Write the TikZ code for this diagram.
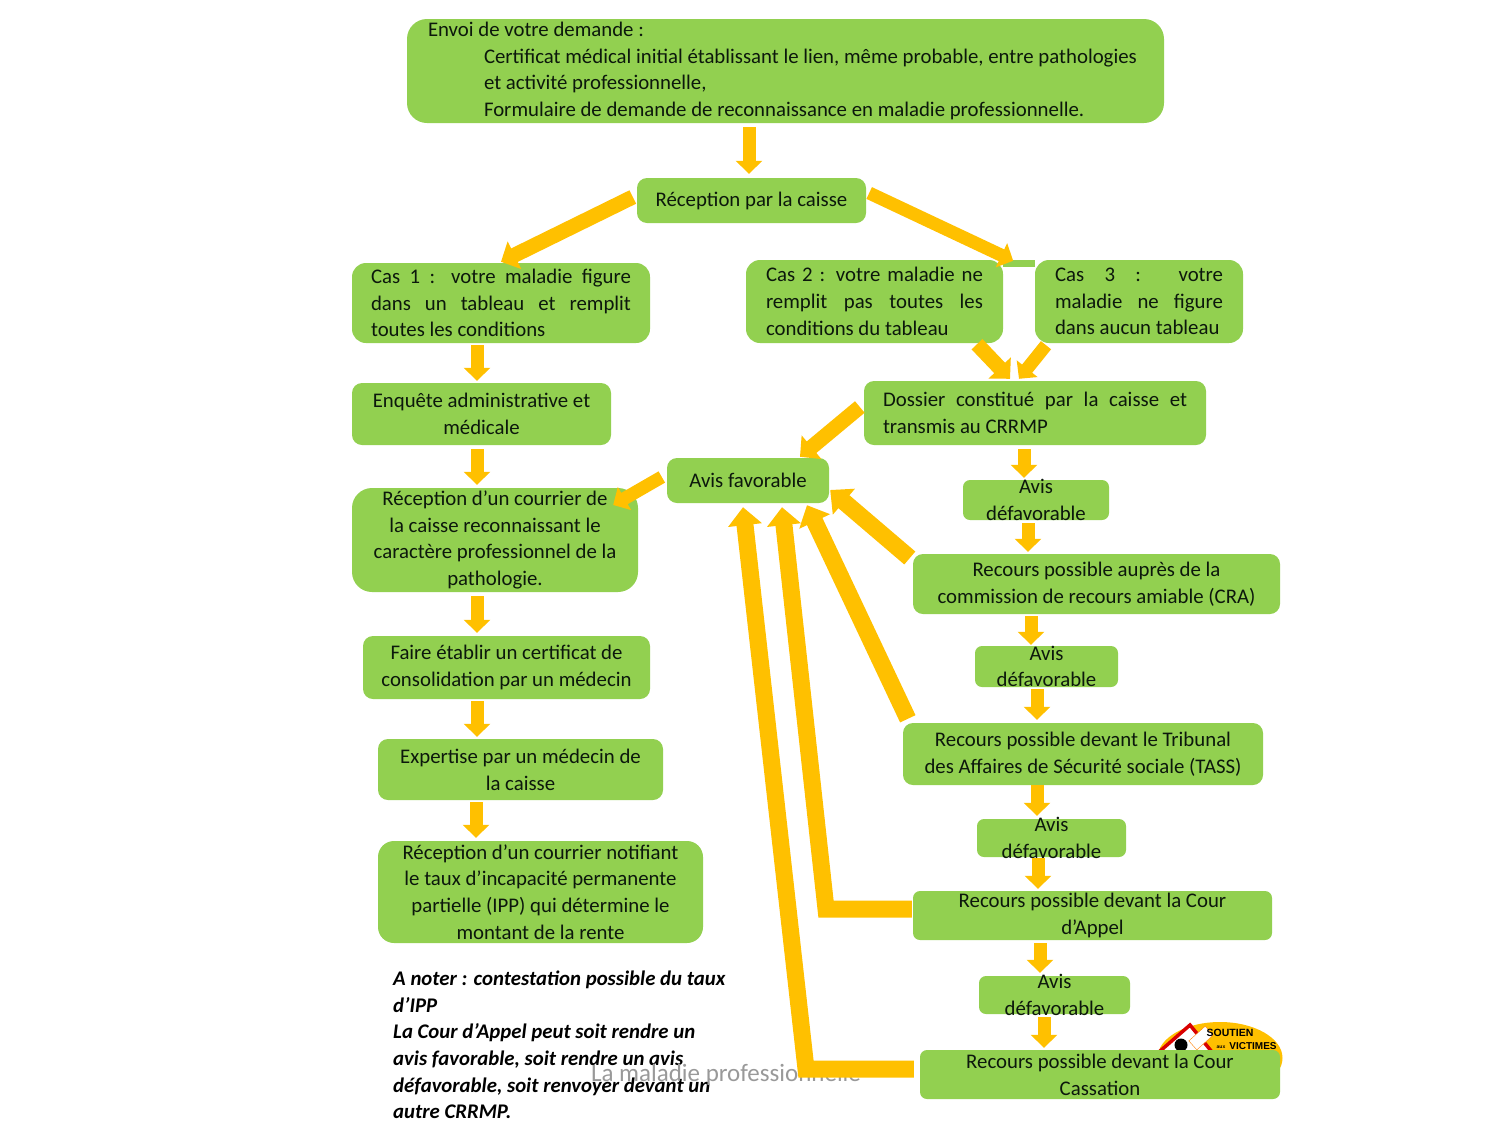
\documentclass[tikz,border=0pt]{standalone}
\usepackage{fontspec}
\setmainfont{Carlito}
\newfontfamily\logofont{Liberation Sans}
\usetikzlibrary{arrows.meta,shapes.geometric}
\tolerance=9999 \hyphenpenalty=10000
\definecolor{vert}{RGB}{146,208,80}
\definecolor{jaune}{RGB}{255,192,0}
\definecolor{encre}{RGB}{12,24,12}
\tikzset{
  texte/.style={font=\fontsize{20.8}{26.7}\selectfont,text=encre},
  boite/.style={fill=vert,rounded corners=#1,inner sep=0pt,texte,align=center},
  boite/.default=10pt,
  taille/.style 2 args={minimum width=#1pt,minimum height=#2pt},
  avis/.style={boite=7pt,label={[texte,align=center]center:Avis\\défavorable}},
  fleche/.style={draw=jaune,line width=13pt,-{Triangle[width=26pt,length=13pt]}},
  moyenne/.style={draw=jaune,line width=15pt,-{Triangle[width=30pt,length=15pt]}},
  grande/.style={draw=jaune,line width=17pt,-{Triangle[width=33pt,length=18pt]}}
}
\begin{document}
\begin{tikzpicture}[x=1pt,y=-1pt]
\useasboundingbox (0,0) rectangle (1500,1125);
\fill[white] (0,0) rectangle (1500,1125);
% logo
\node[ellipse,fill=jaune,minimum width=125pt,minimum height=72pt,inner sep=0pt] (ovale) at (1220,1058) {};
\coordinate (toitg) at (1159,1052); \coordinate (toith) at (1190,1025); \coordinate (toitd) at (1212,1052);
\fill[white] (toitg)--(toith)--(toitd)--cycle;
\draw[red!85!black,line width=3.5pt] (toitg)--(toith)--(toitd);
\fill[black] (1181,1045) circle (6.5pt);
\fill[white,draw=orange,rotate around={42:(1201,1038)}] (1190,1032) rectangle (1212,1044);
\node[font=\logofont\bfseries\fontsize{10.5}{10}\selectfont] (soutien) at (1230,1033) {SOUTIEN};
\node[font=\logofont\bfseries\fontsize{5}{5}\selectfont] (aux) at (1221,1047) {aux};
\node[font=\logofont\bfseries\fontsize{10}{10}\selectfont] (victimes) at (1253,1046) {VICTIMES};
% boites de gauche
\node[boite=20pt,taille={757}{104},text width=715pt,align=flush left] (envoi) at (785.5,71) {Envoi de votre demande :\\
  \hspace*{56pt}Certificat médical initial établissant le lien, même probable, entre pathologies\\
  \hspace*{56pt}et activité professionnelle,\\
  \hspace*{56pt}Formulaire de demande de reconnaissance en maladie professionnelle.};
\node[boite,taille={229}{45}] (recep) at (751.5,200.5) {Réception par la caisse};
\node[boite=14pt,taille={298}{80},text width=260pt,align=justify] (cas1) at (501,303) {Cas 1 : votre maladie figure\linebreak dans un tableau et remplit\linebreak toutes les conditions};
\node[boite=14pt,taille={257}{83},text width=217pt,align=justify] (cas2) at (874.5,301.5) {Cas 2 : votre maladie ne\linebreak remplit pas toutes les\linebreak conditions du tableau};
\node[boite=14pt,taille={208}{83},text width=168pt,align=justify] (cas3) at (1139,301.5) {Cas 3 : votre\linebreak maladie ne figure\linebreak dans aucun tableau};
\fill[vert] (cas2.north east) rectangle ([yshift=-7pt]cas3.north west);
\node[boite,taille={259}{62}] (enquete) at (481.5,414) {Enquête administrative et\\médicale};
\node[boite=20pt,taille={286}{104}] (courrier) at (495,540) {Réception d’un courrier de\\la caisse reconnaissant le\\caractère professionnel de la\\pathologie.};
\node[boite,taille={287}{63}] (certif) at (506.5,667.5) {Faire établir un certificat de\\consolidation par un médecin};
\node[boite,taille={285}{61}] (expert) at (520.5,769.5) {Expertise par un médecin de\\la caisse};
\node[boite=16pt,taille={325}{102}] (notif) at (540.5,892) {Réception d’un courrier notifiant\\le taux d’incapacité permanente\\partielle (IPP) qui détermine le\\montant de la rente};
\node[boite,taille={162}{45}] (favorable) at (748,480.5) {Avis favorable};
% boites de droite
\node[boite,taille={342}{64},text width=304pt,align=justify] (dossier) at (1035,413) {Dossier constitué par la caisse et transmis au CRRMP};
\node[avis,taille={146}{40}] (def1) at (1036,500) {};
\node[boite,taille={367}{60}] (cra) at (1096.5,584) {Recours possible auprès de la\\commission de recours amiable (CRA)};
\node[avis,taille={143}{41}] (def2) at (1046.5,666.5) {};
\node[boite,taille={360}{62}] (tass) at (1083,754) {Recours possible devant le Tribunal\\des Affaires de Sécurité sociale (TASS)};
\node[avis,taille={149}{38}] (def3) at (1051.5,838) {};
\node[boite=7pt,taille={359}{49},label={[texte,align=center]center:Recours possible devant la Cour\\d’Appel}] (appel) at (1092.5,915.5) {};
\node[avis,taille={151}{38}] (def4) at (1054.5,995) {};
\node[boite=7pt,taille={360}{49},label={[texte,align=center]center:Recours possible devant la Cour\\Cassation}] (cass) at (1100,1074.5) {};
% note et pied de page
\node[texte,font=\fontsize{20.8}{26.7}\selectfont\bfseries\itshape,text=black,align=left,anchor=west,inner sep=0pt] (note) at (393,1045) {A noter : contestation possible du taux\\d’IPP\\La Cour d’Appel peut soit rendre un\\avis favorable, soit rendre un avis\\défavorable, soit renvoyer devant un\\autre CRRMP.};
\node[font=\fontsize{25}{25}\selectfont,text=black!40,inner sep=0pt] (pied) at (726,1075) {La maladie professionnelle};
% fleches
\coordinate (coudeA) at (826,909); \coordinate (coudeB) at (806,1069);
\draw[fleche] ([shift={(-36.5,4)}]envoi.south)--([shift={(-2.5,-4)}]recep.north);
\draw[moyenne] ([shift={(-4,-3.5)}]recep.west)--([shift={(0,-1)}]cas1.north);
\draw[fleche] ([shift={(3,-7.5)}]recep.east)--([shift={(10,1)}]cas2.north east);
\draw[moyenne] ([shift={(102.5,1)}]cas2.south)--([shift={(-25,-2)}]dossier.north);
\draw[fleche] ([shift={(-93,2)}]cas3.south)--([shift={(-16,-2)}]dossier.north);
\draw[fleche] ([shift={(-24,2)}]cas1.south)--([shift={(-4.5,-2)}]enquete.north);
\draw[fleche] ([shift={(-4.5,4)}]enquete.south)--([shift={(-18,-3)}]courrier.north);
\draw[fleche] ([shift={(-5,-3.5)}]favorable.west)--([shift={(-25,-35)}]courrier.east);
\draw[moyenne] ([shift={(-4,-6)}]dossier.west)--([shift={(52,-1)}]favorable.north);
\draw[fleche] ([shift={(-18,4)}]courrier.south)--([shift={(-29.5,-3)}]certif.north);
\draw[fleche] ([shift={(-29.5,2)}]certif.south)--([shift={(-43.5,-2)}]expert.north);
\draw[fleche] ([shift={(-44.5,2)}]expert.south)--([shift={(-64.5,-3)}]notif.north);
\draw[fleche] ([shift={(-11,4)}]dossier.south)--([shift={(-12,-2)}]def1.north);
\draw[fleche] ([shift={(-8,3)}]def1.south)--([shift={(-68.5,-2)}]cra.north);
\draw[fleche] ([shift={(-65.5,2)}]cra.south)--([shift={(-15.5,-1)}]def2.north);
\draw[fleche] ([shift={(-9.5,2)}]def2.south)--([shift={(-46,-3)}]tass.north);
\draw[fleche] ([shift={(-46,0)}]tass.south)--([shift={(-14.5,-3)}]def3.north);
\draw[fleche] ([shift={(-13.5,1)}]def3.south)--([shift={(-54.5,-2)}]appel.north);
\draw[fleche] ([shift={(-52.5,3)}]appel.south)--([shift={(-14.5,-3)}]def4.north);
\draw[fleche] ([shift={(-10.5,3)}]def4.south)--([shift={(-56,-2)}]cass.north);
\draw[grande] ([shift={(-3,-26)}]cra.west)--([shift={(1,9.5)}]favorable.east);
\draw[grande] ([shift={(5,-4)}]tass.north west)--([shift={(59,2)}]favorable.south);
\draw[grande] ([shift={(-1,-6.5)}]appel.west)--(coudeA)--([shift={(34,4)}]favorable.south);
\draw[grande] ([shift={(-6,-5.5)}]cass.west)--(coudeB)--([shift={(-5,4)}]favorable.south);
\end{tikzpicture}
\end{document}
